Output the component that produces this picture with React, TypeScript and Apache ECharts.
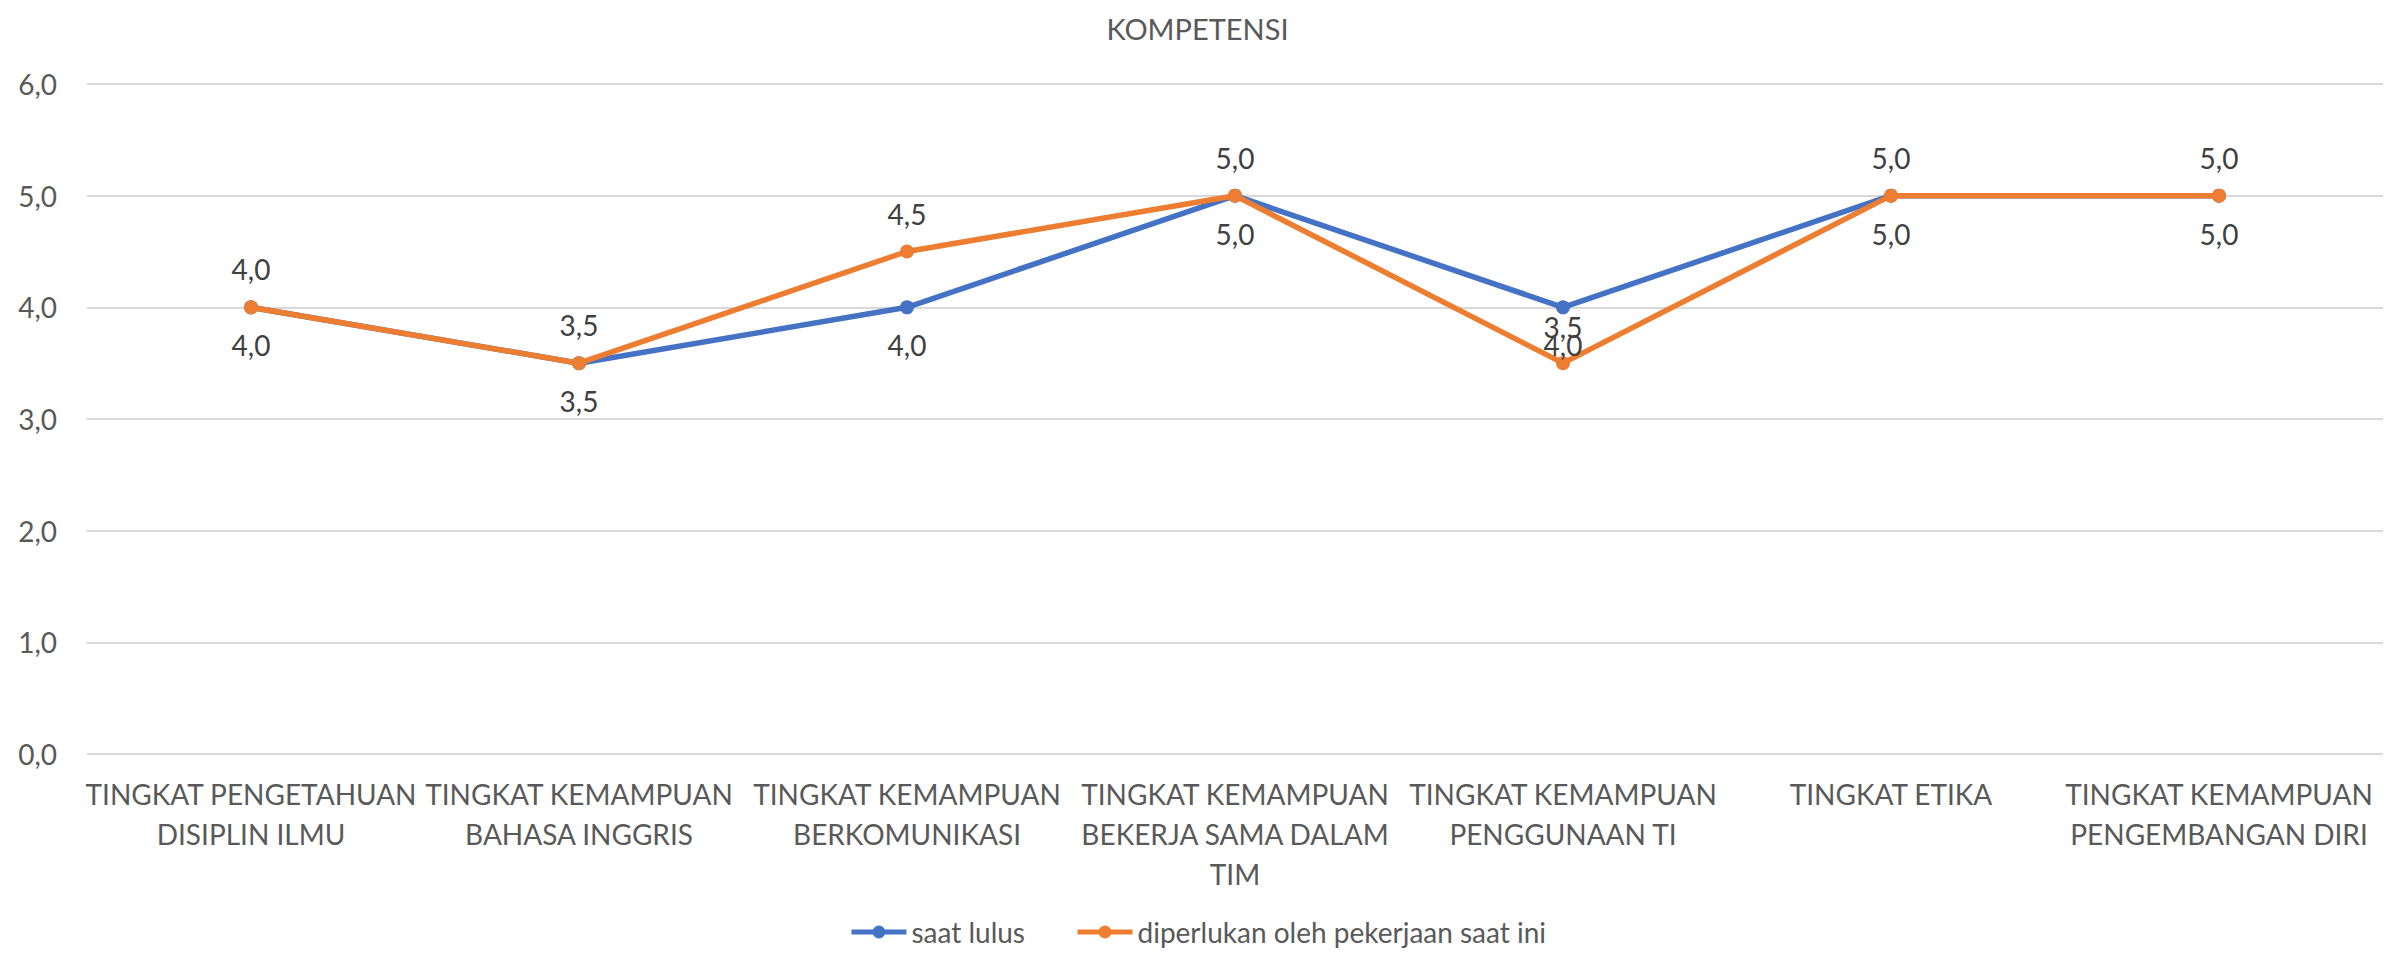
import React, { useEffect, useRef } from "react";
import * as echarts from "echarts";

const categories = [
  "TINGKAT PENGETAHUAN\nDISIPLIN ILMU",
  "TINGKAT KEMAMPUAN\nBAHASA INGGRIS",
  "TINGKAT KEMAMPUAN\nBERKOMUNIKASI",
  "TINGKAT KEMAMPUAN\nBEKERJA SAMA DALAM\nTIM",
  "TINGKAT KEMAMPUAN\nPENGGUNAAN TI",
  "TINGKAT ETIKA",
  "TINGKAT KEMAMPUAN\nPENGEMBANGAN DIRI",
];
const saatLulus = [4.0, 3.5, 4.0, 5.0, 4.0, 5.0, 5.0];
const diperlukan = [4.0, 3.5, 4.5, 5.0, 3.5, 5.0, 5.0];
// data label texts as shown in the picture
const saatLulusLabels = ["4,0", "3,5", "4,0", "5,0", "3,5", "5,0", "5,0"];
const diperlukanLabels = ["4,0", "3,5", "4,5", "5,0", "4,0", "5,0", "5,0"];
const yTicks = { min: 0, max: 6, interval: 1 };

const FONT = "Lato";
const TEXT = "#595959";
const LABEL = "#404040";

export default function App() {
  const ref = useRef<HTMLDivElement>(null);
  useEffect(() => {
    if (!ref.current) return;
    const chart = echarts.init(ref.current, null, { renderer: "svg" });
    const blueData = saatLulus.map((v, i) => ({
      value: v,
      label: { formatter: saatLulusLabels[i], distance: i === 4 ? -1 : 17 },
    }));
    const orangeData = diperlukan.map((v, i) => ({
      value: v,
      label: { formatter: diperlukanLabels[i], distance: i === 4 ? -3 : 17 },
    }));
    chart.setOption({
      animation: false,
      backgroundColor: "#ffffff",
      textStyle: { fontFamily: FONT },
      title: {
        text: "KOMPETENSI",
        left: "center",
        top: 9,
        textStyle: { color: TEXT, fontSize: 29, fontWeight: "normal", fontFamily: FONT },
      },
      legend: {
        bottom: 2,
        left: "center",
        itemWidth: 55,
        itemHeight: 16,
        itemGap: 50,
        lineStyle: { width: 5 },
        textStyle: { color: TEXT, fontSize: 28, fontFamily: FONT },
        data: ["saat lulus", "diperlukan oleh pekerjaan saat ini"],
      },
      grid: { left: 87, right: 12, top: 84, bottom: 199, containLabel: false },
      xAxis: {
        type: "category",
        data: categories,
        boundaryGap: true,
        axisLine: { show: false },
        axisTick: { show: false },
        axisLabel: {
          interval: 0,
          color: TEXT,
          fontSize: 28,
          fontFamily: FONT,
          lineHeight: 40,
          margin: 20,
        },
      },
      yAxis: {
        type: "value",
        min: yTicks.min,
        max: yTicks.max,
        interval: yTicks.interval,
        axisLine: { show: false },
        axisTick: { show: false },
        splitLine: { lineStyle: { color: "#d9d9d9", width: 2 } },
        axisLabel: {
          color: TEXT,
          fontSize: 28,
          fontFamily: FONT,
          margin: 30,
          formatter: (v: number) => v.toFixed(1).replace(".", ","),
        },
      },
      series: [
        {
          name: "saat lulus",
          type: "line",
          data: blueData,
          color: "#4472C4",
          lineStyle: { width: 5.5, color: "#4472C4" },
          symbol: "circle",
          symbolSize: 14,
          itemStyle: { color: "#4472C4" },
          label: {
            show: true,
            position: "bottom",
            color: LABEL,
            fontSize: 28,
            fontFamily: FONT,
          },
          z: 2,
        },
        {
          name: "diperlukan oleh pekerjaan saat ini",
          type: "line",
          data: orangeData,
          color: "#ED7D31",
          lineStyle: { width: 5.5, color: "#ED7D31" },
          symbol: "circle",
          symbolSize: 14,
          itemStyle: { color: "#ED7D31" },
          label: {
            show: true,
            position: "top",
            color: LABEL,
            fontSize: 28,
            fontFamily: FONT,
          },
          z: 3,
        },
      ],
    });
    return () => chart.dispose();
  }, []);
  return (
    <div
      ref={ref}
      style={{ position: "fixed", left: 0, top: 0, width: 2395, height: 953, background: "#fff" }}
    />
  );
}
